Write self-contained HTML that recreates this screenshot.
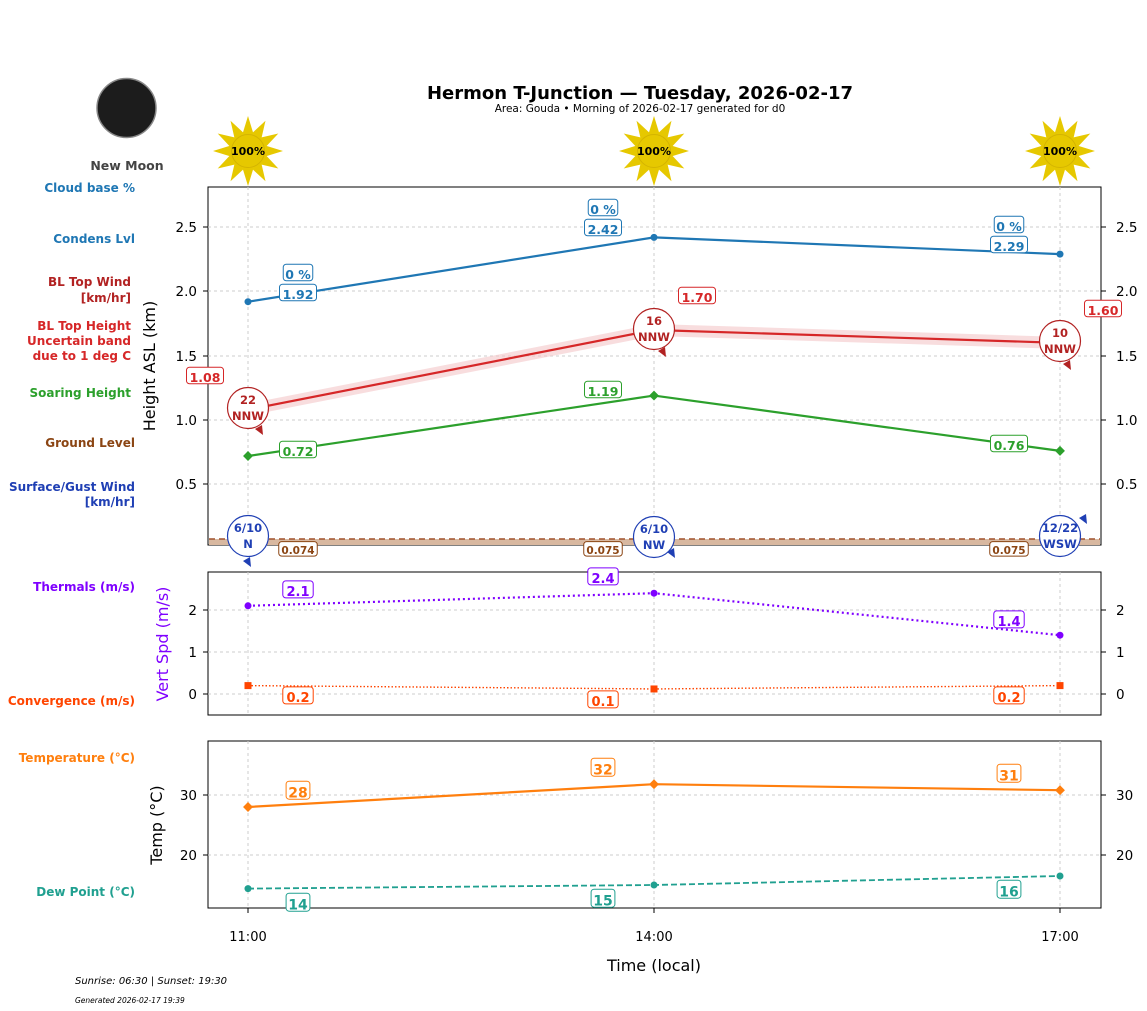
<!DOCTYPE html>
<html><head><meta charset="utf-8"><style>
body{margin:0;background:#fff;}
svg{display:block;font-family:"DejaVu Sans","Liberation Sans",sans-serif;}
</style></head><body>
<svg id="s" width="1147" height="1011" viewBox="0 0 1147 1011" xmlns="http://www.w3.org/2000/svg"></svg>
<script>
const s=document.getElementById('s');let h='';
const X=[248,654,1060];
const yM=v=>420-(v-1)*128.6, yV=v=>694-v*42, yT=v=>795-(v-30)*6;
function t(x,y,txt,o={}){h+=`<text x="${x}" y="${y}" font-size="${o.fs||12}" fill="${o.c||'#000'}" font-weight="${o.w||'normal'}" text-anchor="${o.a||'middle'}" ${o.st?'font-style="italic"':''} ${o.tr?`transform="${o.tr}"`:''}>${txt}</text>`;}
function lab(x,y,txt,c,fs){fs=fs||12.5;const w=txt.length*fs*0.6+7;h+=`<rect x="${x-w/2}" y="${y-fs*0.7-2}" width="${w}" height="${fs+4}" rx="3" fill="#fff" stroke="${c}" stroke-width="1"/>`;t(x,y+fs*0.38-1,txt,{c:c,w:'bold',fs:fs});}
function frame(y0,y1){h+=`<rect x="208" y="${y0}" width="893" height="${y1-y0}" fill="none" stroke="#000" stroke-width="1"/>`;X.forEach(x=>h+=`<line x1="${x}" y1="${y0}" x2="${x}" y2="${y1}" stroke="#ccc" stroke-dasharray="3,3"/>`);}
function grid(ys){ys.forEach(([y,l])=>{h+=`<line x1="208" y1="${y}" x2="1101" y2="${y}" stroke="#ccc" stroke-dasharray="3,3"/><line x1="203" y1="${y}" x2="208" y2="${y}" stroke="#000"/><line x1="1101" y1="${y}" x2="1106" y2="${y}" stroke="#000"/>`;t(197,y+5,l,{a:'end',fs:13.5});t(1116,y+5,l,{a:'start',fs:13.5});});}
function line(pts,c,o={}){h+=`<polyline points="${pts.map(p=>p.join(',')).join(' ')}" fill="none" stroke="${c}" stroke-width="${o.w||2.2}" ${o.d?`stroke-dasharray="${o.d}"`:''}/>`;}
t(640,99,'Hermon T-Junction — Tuesday, 2026-02-17',{w:'bold',fs:18});
t(640,112,'Area: Gouda • Morning of 2026-02-17 generated for d0',{fs:10.5});
h+=`<circle cx="126.5" cy="108" r="29.5" fill="#1c1c1c" stroke="#888" stroke-width="1.5"/>`;
t(127,170,'New Moon',{w:'bold',c:'#444',fs:12.5});
X.forEach(x=>{let p='';for(let i=0;i<12;i++){const a=i*Math.PI/6,b=a+Math.PI/9,c=a-Math.PI/9;p+=`<polygon points="${x+35*Math.sin(a)},${151-35*Math.cos(a)} ${x+17*Math.sin(b)},${151-17*Math.cos(b)} ${x+17*Math.sin(c)},${151-17*Math.cos(c)}" fill="#e6c800"/>`;}h+=p+`<circle cx="${x}" cy="151" r="16.5" fill="#e6c800" stroke="#d4b400"/>`;t(x,155,'100%',{w:'bold',fs:11});});
[['Cloud base %',192,'#1f77b4',135],['Condens Lvl',243,'#1f77b4',135],['BL Top Wind',286,'#b22222',131],['[km/hr]',302,'#b22222',131],['BL Top Height',330,'#d62728',131],['Uncertain band',345,'#d62728',131],['due to 1 deg C',360,'#d62728',131],['Soaring Height',397,'#2ca02c',131],['Ground Level',447,'#8b4513',135],['Surface/Gust Wind',491,'#1f3fb4',135],['[km/hr]',506,'#1f3fb4',135],['Thermals (m/s)',591,'#7f00ff',135],['Convergence (m/s)',705,'#ff4500',135],['Temperature (°C)',762,'#ff7f0e',135],['Dew Point (°C)',896,'#20a090',135]].forEach(([l,y,c,x])=>t(x,y,l,{a:'end',c:c,w:'bold',fs:12}));
frame(187,545);grid([[227,'2.5'],[291,'2.0'],[356,'1.5'],[420,'1.0'],[484,'0.5']]);
h+=`<rect x="209" y="539" width="891" height="6" fill="#d8b8a0"/><line x1="209" y1="539" x2="1100" y2="539" stroke="#a0522d" stroke-width="1.5" stroke-dasharray="6,4"/>`;
const cb=[[X[0],yM(1.92)],[X[1],yM(2.42)],[X[2],yM(2.29)]];line(cb,'#1f77b4');cb.forEach(p=>h+=`<circle cx="${p[0]}" cy="${p[1]}" r="3.5" fill="#1f77b4"/>`);
const bl=[[X[0],yM(1.08)],[X[1],yM(1.70)],[X[2],yM(1.60)]];
h+=`<polygon points="${bl.map(p=>p[0]+','+(p[1]-6)).join(' ')} ${bl.slice().reverse().map(p=>p[0]+','+(p[1]+6)).join(' ')}" fill="#f4c6c8" opacity="0.6"/>`;line(bl,'#d62728');
const sh=[[X[0],yM(0.72)],[X[1],yM(1.19)],[X[2],yM(0.76)]];line(sh,'#2ca02c');sh.forEach(p=>h+=`<rect x="${p[0]-3.5}" y="${p[1]-3.5}" width="7" height="7" fill="#2ca02c" transform="rotate(45 ${p[0]} ${p[1]})"/>`);
lab(298,275,'0 %','#1f77b4');lab(298,295,'1.92','#1f77b4');lab(603,210,'0 %','#1f77b4');lab(603,230,'2.42','#1f77b4');lab(1009,227,'0 %','#1f77b4');lab(1009,247,'2.29','#1f77b4');
lab(205,378,'1.08','#d62728');lab(697,298,'1.70','#d62728');lab(1103,311,'1.60','#d62728');
lab(298,452,'0.72','#2ca02c');lab(603,392,'1.19','#2ca02c');lab(1009,446,'0.76','#2ca02c');
lab(298,551,'0.074','#8b4513',10.5);lab(603,551,'0.075','#8b4513',10.5);lab(1009,551,'0.075','#8b4513',10.5);
function wc(x,y,a,b,c,ax,ay){h+=`<circle cx="${x}" cy="${y}" r="20.5" fill="#fff" stroke="${c}" stroke-width="1.2"/><polygon points="${ax},${ay} ${ax-8},${ay-6} ${ax-1},${ay-10}" fill="${c}"/>`;t(x,y-4,a,{c:c,w:'bold',fs:11.5});t(x,y+12,b,{c:c,w:'bold',fs:11.5});}
wc(248,408,'22','NNW','#b22222',263,435);wc(654,329,'16','NNW','#b22222',666,357);wc(1060,341,'10','NNW','#b22222',1071,370);
wc(248,536,'6/10','N','#1f3fb4',251,567);wc(654,537,'6/10','NW','#1f3fb4',675,558);wc(1060,536,'12/22','WSW','#1f3fb4',1087,524);
t(155,366,'Height ASL (km)',{fs:16,tr:'rotate(-90 155 366)'});
frame(572,715);grid([[610,'2'],[652,'1'],[694,'0']]);
const th=[[X[0],yV(2.1)],[X[1],yV(2.4)],[X[2],yV(1.4)]];line(th,'#7f00ff',{d:'2,3'});th.forEach(p=>h+=`<circle cx="${p[0]}" cy="${p[1]}" r="3.5" fill="#7f00ff"/>`);
const cv=[[X[0],yV(0.2)],[X[1],yV(0.12)],[X[2],yV(0.2)]];line(cv,'#ff4500',{w:1.4,d:'1.5,2'});cv.forEach(p=>h+=`<rect x="${p[0]-3.5}" y="${p[1]-3.5}" width="7" height="7" fill="#ff4500"/>`);
lab(298,592,'2.1','#7f00ff',13);lab(603,579,'2.4','#7f00ff',13);lab(1009,622,'1.4','#7f00ff',13);
lab(298,698,'0.2','#ff4500',13);lab(603,702,'0.1','#ff4500',13);lab(1009,698,'0.2','#ff4500',13);
t(168,644,'Vert Spd (m/s)',{fs:16,c:'#7f00ff',tr:'rotate(-90 168 644)'});
frame(741,908);grid([[795,'30'],[855,'20']]);
const tp=[[X[0],yT(28)],[X[1],yT(31.8)],[X[2],yT(30.8)]];line(tp,'#ff7f0e');tp.forEach(p=>h+=`<rect x="${p[0]-3.5}" y="${p[1]-3.5}" width="7" height="7" fill="#ff7f0e" transform="rotate(45 ${p[0]} ${p[1]})"/>`);
const dp=[[X[0],yT(14.4)],[X[1],yT(15)],[X[2],yT(16.5)]];line(dp,'#20a090',{w:1.8,d:'6,3'});dp.forEach(p=>h+=`<circle cx="${p[0]}" cy="${p[1]}" r="3.5" fill="#20a090"/>`);
lab(298,793,'28','#ff7f0e',14);lab(603,770,'32','#ff7f0e',14);lab(1009,776,'31','#ff7f0e',14);
lab(298,905,'14','#20a090',14);lab(603,901,'15','#20a090',14);lab(1009,892,'16','#20a090',14);
t(162,825,'Temp (°C)',{fs:16,tr:'rotate(-90 162 825)'});
X.forEach((x,i)=>{h+=`<line x1="${x}" y1="908" x2="${x}" y2="913" stroke="#000"/>`;t(x,941,['11:00','14:00','17:00'][i],{fs:13});});
t(654,971,'Time (local)',{fs:16});
t(75,984,'Sunrise: 06:30 | Sunset: 19:30',{a:'start',fs:10,st:1});
t(75,1003,'Generated 2026-02-17 19:39',{a:'start',fs:7.5,st:1});
s.innerHTML=h;
</script>
</body></html>
